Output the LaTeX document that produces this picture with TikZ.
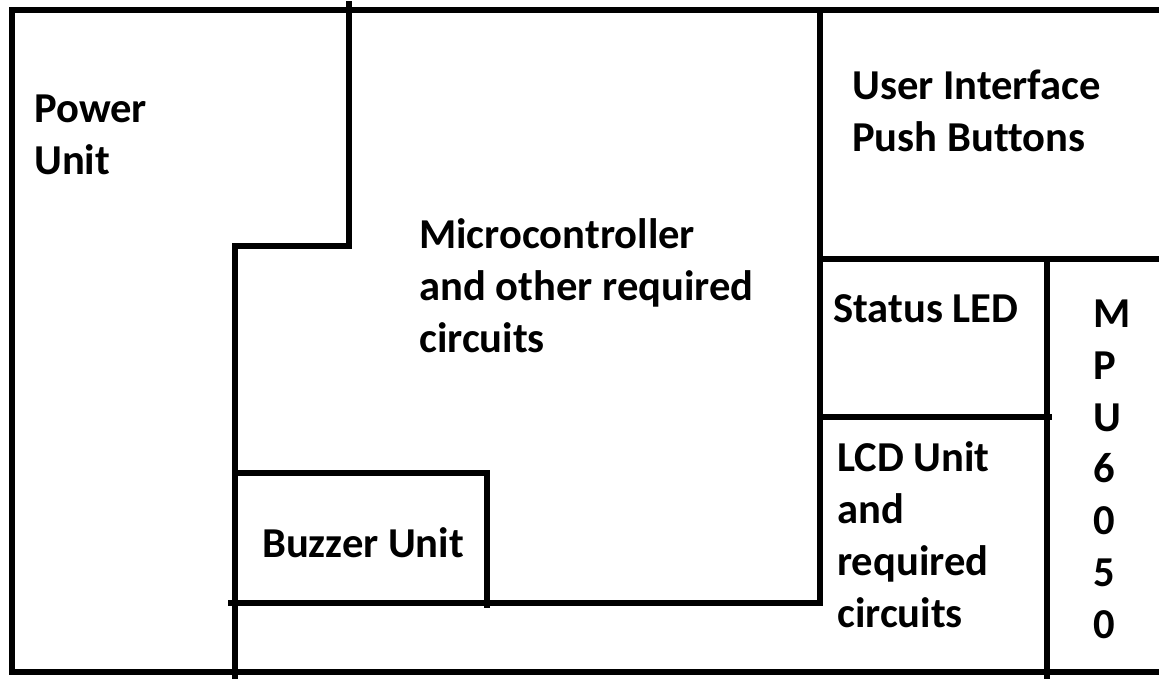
\documentclass[tikz,border=0pt]{standalone}
\usepackage{fontspec}
\setmainfont{Carlito}[Ligatures=NoCommon]
\begin{document}
\begin{tikzpicture}[x=1pt,y=-1pt,
  wall/.style={line width=6.5pt, line join=miter, line cap=rect},
  label/.style={anchor=base west, align=left, inner sep=0pt,
    font=\bfseries\fontsize{42.6}{52}\selectfont}]
\useasboundingbox (0,0) rectangle (1159,679);

% corner points of the block layout
\coordinate (tl) at (12,10);
\coordinate (bl) at (12,672);
\coordinate (tr) at (1175,10);
\coordinate (br) at (1175,672);

% outer frame (open to the right)
\draw[wall] (tr) -- (tl) -- (bl) -- (br);

% power unit boundary
\coordinate (p1) at (349,4);
\coordinate (p2) at (349,246);
\coordinate (p3) at (235,246);
\coordinate (p4) at (235,684);
\draw[wall] (p1) -- (p2) -- (p3) -- (p4);

% microcontroller block, right and bottom sides
\coordinate (m1) at (820,10);
\coordinate (m2) at (820,603);
\coordinate (m3) at (231,603);
\draw[wall] (m1) -- (m2) -- (m3);

% buzzer unit
\coordinate (b1) at (235,473);
\coordinate (b2) at (487,473);
\coordinate (b3) at (487,605);
\draw[wall] (b1) -- (b2) -- (b3);

% right-hand panels
\coordinate (r1) at (820,259);
\coordinate (r2) at (1175,259);
\coordinate (s1) at (1047,259);
\coordinate (s2) at (1047,678);
\coordinate (l1) at (820,417);
\coordinate (l2) at (1049,417);
\draw[wall] (r1) -- (r2);
\draw[wall] (s1) -- (s2);
\draw[wall] (l1) -- (l2);

% labels (multi-line labels are placed by the baseline of their last line)
\node[label] (power) at (34,175) {Power\\Unit};
\node[label] (ui) at (852,152) {User Interface\\Push Buttons};
\node[label] (mcu) at (419,352) {Microcontroller\\and other required\\circuits};
\node[label] (buzzer) at (262,557) {Buzzer Unit};
\node[label] (led) at (833,322) {Status LED};
\node[label] (lcd) at (837,627) {LCD Unit\\and\\required\\circuits};
\node[label, font=\bfseries\fontsize{42.6}{51.7}\selectfont] (mpu) at (1093,638)
  {M\\P\\U\\6\\0\\5\\0};
\end{tikzpicture}
\end{document}
